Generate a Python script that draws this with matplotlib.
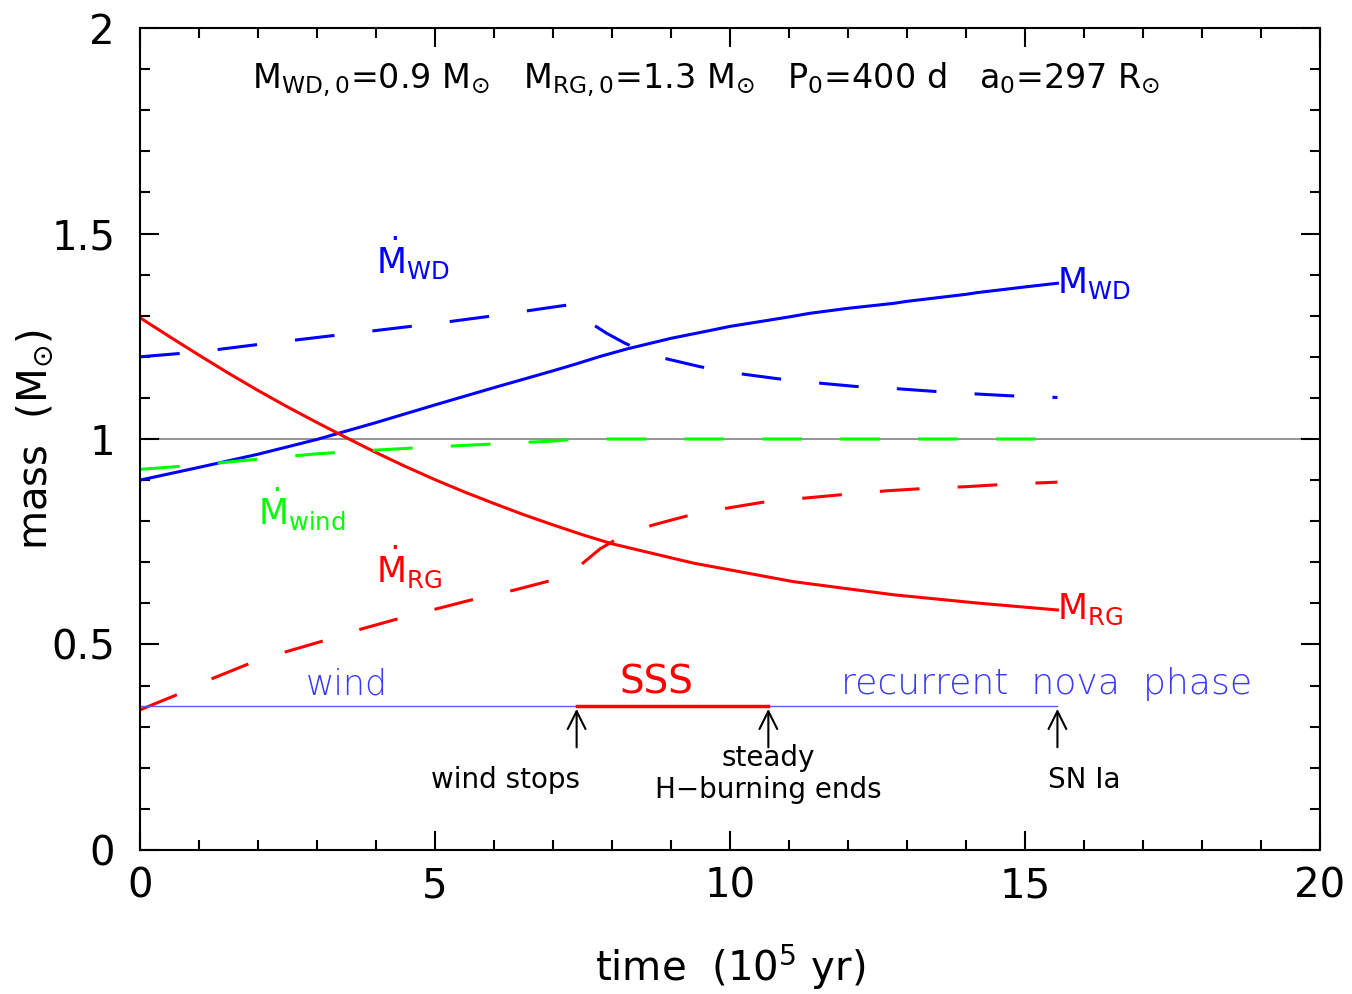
import numpy as np
import matplotlib
matplotlib.use("Agg")
import matplotlib.pyplot as plt
from matplotlib.ticker import MultipleLocator

plt.rcParams['font.family'] = ['DejaVu Sans']
plt.rcParams['mathtext.fontset'] = 'dejavusans'
plt.rcParams['mathtext.default'] = 'regular'

# =========================================================
# DATA
# =========================================================
# white dwarf mass (solid blue)
t_wd = [0, 1, 2, 3, 4, 5, 6, 7, 7.4, 7.8, 8.25, 9, 9.66, 10, 11, 11.36, 12,
        12.77, 13, 14, 14.18, 15, 15.55]
m_wd = [0.90, 0.931, 0.963, 0.999, 1.040, 1.083, 1.125, 1.166, 1.183, 1.201,
        1.219, 1.245, 1.264, 1.274, 1.297, 1.306, 1.318, 1.330, 1.335, 1.352,
        1.356, 1.370, 1.379]

# red giant mass (solid red)
t_rg = [0, 0.5, 1, 1.5, 2, 2.5, 3, 3.5, 4, 4.5, 5, 5.5, 6, 6.5, 7, 7.5, 8,
        9.38, 11.07, 12.77, 14.18, 15.55]
m_rg = [1.295, 1.249, 1.204, 1.160, 1.118, 1.078, 1.040, 1.003, 0.967, 0.933,
        0.901, 0.871, 0.843, 0.816, 0.791, 0.767, 0.745, 0.698, 0.653, 0.621,
        0.601, 0.584]

# accretion rate onto WD (dashed blue)
t_dwd = [0, 1, 2, 3, 4, 5, 6, 7, 7.35, 7.45, 7.63, 7.9, 8.22, 8.5, 8.81, 9.49,
         10.11, 10.79, 11.44, 12.12, 12.77, 13.45, 14.12, 14.77, 15.55]
dm_wd = [1.200, 1.212, 1.230, 1.247, 1.264, 1.281, 1.300, 1.321, 1.328, 1.310,
         1.283, 1.258, 1.233, 1.215, 1.199, 1.176, 1.160, 1.147, 1.137, 1.128,
         1.123, 1.116, 1.110, 1.105, 1.101]

# wind mass-loss rate (dashed green)
t_dwind = [0, 1, 2, 3, 4, 5, 6, 7, 7.4, 10, 15.3]
dm_wind = [0.926, 0.937, 0.951, 0.964, 0.973, 0.981, 0.988, 0.995, 1.0, 1.0, 1.0]

# RG mass-transfer rate (dashed red)
t_drg = [0, 0.68, 1.24, 1.86, 2.49, 3.16, 3.76, 4.41, 5.06, 5.71, 6.36, 7.0,
         7.3, 7.54, 7.8, 8.1, 8.4, 8.7, 9.38, 10.0, 10.68, 11.33, 12.0, 12.66,
         13.34, 14.0, 14.7, 15.55]
dm_rg = [0.341, 0.381, 0.418, 0.454, 0.483, 0.511, 0.538, 0.564, 0.588, 0.612,
         0.633, 0.657, 0.672, 0.702, 0.733, 0.758, 0.777, 0.791, 0.817, 0.833,
         0.849, 0.857, 0.866, 0.874, 0.880, 0.884, 0.890, 0.895]

# phase markers
t_wind_stop = 7.4
t_h_end = 10.65
t_snia = 15.55
phase_level = 0.35

# =========================================================
# PLOT
# =========================================================
fig = plt.figure(figsize=(13.52, 9.94), dpi=100)
ax = fig.add_axes([0.1036, 0.1449, 0.8727, 0.8269])

lw = 2.2
dash = (13, 12.5)

ax.axhline(1.0, color='#777777', lw=1.1, zorder=1)

ax.plot(t_wd, m_wd, color='#0000ff', lw=lw)
ax.plot(t_rg, m_rg, color='#ff0000', lw=lw)
ax.plot(t_dwd, dm_wd, color='#0000ff', lw=lw, dashes=dash)
ax.plot(t_dwind, dm_wind, color='#00ff00', lw=lw, dashes=dash)
ax.plot(t_drg, dm_rg, color='#ff0000', lw=lw, dashes=dash)

# phase line
ax.plot([0, t_snia], [phase_level, phase_level], color='#5a5aff', lw=1.0)
ax.plot([t_wind_stop, t_h_end], [phase_level, phase_level], color='#ff0000', lw=2.5)

for t in [t_wind_stop, t_h_end, t_snia]:
    ax.annotate('', xy=(t, phase_level), xytext=(t, 0.243),
                arrowprops=dict(arrowstyle='->', color='black', lw=1.5,
                                mutation_scale=32))

ax.text(3.5, 0.362, 'wind', color='#3a3aff', fontsize=25, ha='center',
        va='bottom', fontweight='light')
ax.text(8.75, 0.362, 'SSS', color='#ff0000', fontsize=28, ha='center',
        va='bottom')
ax.text(15.37, 0.362, 'recurrent  nova  phase', color='#3a3aff', fontsize=26,
        ha='center', va='bottom', fontweight='light')

ax.text(6.2, 0.17, 'wind stops', fontsize=20, ha='center', va='center')
ax.text(10.65, 0.225, 'steady', fontsize=20, ha='center', va='center')
ax.text(10.65, 0.145, 'H\u2212burning ends', fontsize=20, ha='center', va='center')
ax.text(16.0, 0.17, 'SN Ia', fontsize=20, ha='center', va='center')

# curve labels
ax.text(15.55, 1.38, r'$M_{WD}$', color='#0000ff', fontsize=25, va='center', ha='left')
ax.text(15.55, 0.585, r'$M_{RG}$', color='#ff0000', fontsize=25, va='center', ha='left')
ax.text(4.0, 1.44, r'$\dot{M}_{WD}$', color='#0000ff', fontsize=25, ha='left', va='center')
ax.text(2.0, 0.83, r'$\dot{M}_{wind}$', color='#00ff00', fontsize=25, ha='left', va='center')
ax.text(4.0, 0.69, r'$\dot{M}_{RG}$', color='#ff0000', fontsize=25, ha='left', va='center')

ax.text(9.6, 1.875,
        r'$M_{WD,0}$=0.9 $M_{\odot}$   $M_{RG,0}$=1.3 $M_{\odot}$   '
        r'$P_0$=400 d   $a_0$=297 $R_{\odot}$',
        fontsize=24, ha='center', va='center')

ax.set_xlim(0, 20)
ax.set_ylim(0, 2)
ax.xaxis.set_minor_locator(MultipleLocator(1))
ax.yaxis.set_minor_locator(MultipleLocator(0.1))
ax.set_xticks([0, 5, 10, 15, 20])
ax.set_xticklabels(['0', '5', '10', '15', '20'])
ax.set_yticks([0, 0.5, 1, 1.5, 2])
ax.set_yticklabels(['0', '0.5', '1', '1.5', '2'])

ax.tick_params(which='both', direction='in', top=True, right=True,
               width=1.5, labelsize=29)
ax.tick_params(which='major', length=14)
ax.tick_params(axis='x', which='major', pad=12)
ax.tick_params(axis='y', which='major', pad=18)
ax.tick_params(which='minor', length=7)
for s in ax.spines.values():
    s.set_linewidth(1.5)

ax.set_xlabel(r'time  (10$^5$ yr)', fontsize=29, labelpad=26)
ax.set_ylabel(r'mass  ($M_{\odot}$)', fontsize=29)
ax.yaxis.set_label_coords(-0.072, 0.5)

fig.savefig('out.png', dpi=100)
plt.close(fig)
